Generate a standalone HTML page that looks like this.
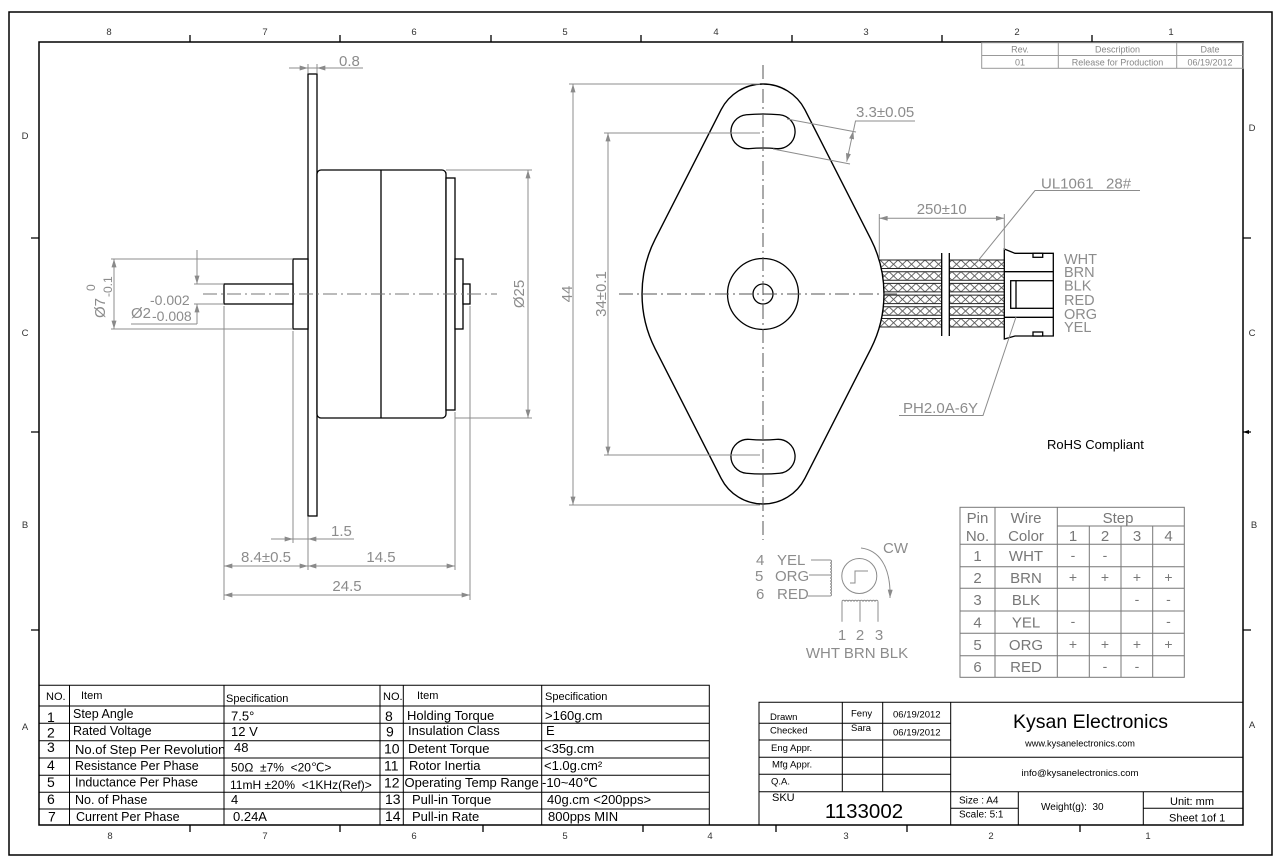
<!DOCTYPE html>
<html><head><meta charset="utf-8">
<style>
html,body{margin:0;padding:0;background:#fff;}
svg{display:block;}
text{font-family:"Liberation Sans",Arial,sans-serif;}
</style></head><body>
<svg width="1283" height="867" viewBox="0 0 1283 867" xmlns="http://www.w3.org/2000/svg">
<defs>
<marker id="ar" viewBox="0 0 10 6" refX="10" refY="3" markerWidth="9" markerHeight="5" markerUnits="userSpaceOnUse" orient="auto-start-reverse"><path d="M0,0 L10,3 L0,6 z" fill="#8a8a8a"/></marker>
<pattern id="xh" patternUnits="userSpaceOnUse" x="880" y="260" width="9" height="11.7"><path d="M0,0 L9,8.5 M9,0 L0,8.5" stroke="#555" stroke-width="0.9" fill="none"/></pattern>
</defs>

<!-- Frame -->
<rect x="9" y="12" width="1263" height="843" fill="none" stroke="#000" stroke-width="1.5"/>
<rect x="39" y="42" width="1204" height="783" fill="none" stroke="#000" stroke-width="1.5"/>
<g stroke="#000" stroke-width="1.3">
<path d="M190,35V42 M340,35V42 M491,35V42 M641,35V42 M792,35V42 M942,35V42 M1092,35V42"/>
<path d="M190,825V832 M340,825V832 M483,825V832 M643,825V832 M776,825V832 M907,825V832 M1080,825V832"/>
<path d="M31,238H39 M31,432H39 M31,630H39"/>
<path d="M1243,238H1251 M1243,432H1251 M1243,630H1251"/>
</g>
<path d="M1243,432 L1249,430 L1249,434 Z" fill="#000"/>
<g font-size="9.5" fill="#333" text-anchor="middle">
<text x="109" y="35">8</text><text x="265" y="35">7</text><text x="414" y="35">6</text><text x="565" y="35">5</text>
<text x="716" y="35">4</text><text x="866" y="35">3</text><text x="1017" y="35">2</text><text x="1171" y="35">1</text>
<text x="110" y="839">8</text><text x="265" y="839">7</text><text x="414" y="839">6</text><text x="565" y="839">5</text>
<text x="710" y="839">4</text><text x="846" y="839">3</text><text x="991" y="839">2</text><text x="1148" y="839">1</text>
<text x="25" y="139">D</text><text x="25" y="336">C</text><text x="25" y="528">B</text><text x="25" y="730">A</text>
<text x="1252" y="131">D</text><text x="1252" y="336">C</text><text x="1254" y="528">B</text><text x="1252" y="728">A</text>
</g>

<!-- Rev table -->
<g stroke="#999" stroke-width="1" fill="none">
<rect x="981.7" y="42.7" width="261.6" height="25.6"/>
<path d="M981.7,55.5H1243.3 M1058.3,42.7V68.3 M1176.7,42.7V68.3"/>
</g>
<g font-size="9" fill="#888" text-anchor="middle">
<text x="1020" y="52.3">Rev.</text><text x="1117.5" y="52.3">Description</text><text x="1210" y="52.3">Date</text>
<text x="1020" y="65.3">01</text><text x="1117.5" y="65.3">Release for Production</text><text x="1210" y="65.3">06/19/2012</text>
</g>

<!-- ===== Side view ===== -->
<g stroke="#000" stroke-width="1.3" fill="#fff">
<rect x="308" y="74" width="9" height="442"/>
<rect x="317" y="170" width="129" height="248" rx="4"/>
<rect x="446" y="178" width="9" height="232"/>
<rect x="293" y="259" width="15" height="70"/>
<rect x="455" y="259" width="8" height="70"/>
<rect x="224" y="284" width="69" height="20"/>
<rect x="463" y="284" width="7" height="20"/>
<line x1="381" y1="170" x2="381" y2="418"/>
</g>
<line x1="203" y1="294" x2="497" y2="294" stroke="#777" stroke-width="1" stroke-dasharray="14 4 2 4"/>

<g stroke="#8c8c8c" stroke-width="1" fill="none">
<path d="M289,68H363 M308,73V64 M317,73V64"/>
<line x1="290" y1="68" x2="308" y2="68" marker-end="url(#ar)"/>
<line x1="335" y1="68" x2="317" y2="68" marker-end="url(#ar)"/>
<path d="M446,170H532 M455,418H532"/>
<line x1="528" y1="170" x2="528" y2="418" marker-start="url(#ar)" marker-end="url(#ar)"/>
<path d="M111,259H293 M111,329H293"/>
<line x1="114" y1="259" x2="114" y2="329" marker-start="url(#ar)" marker-end="url(#ar)"/>
<path d="M194,284H224 M194,304H224 M131,324H197"/>
<line x1="197" y1="250" x2="197" y2="284" marker-end="url(#ar)"/>
<line x1="197" y1="324" x2="197" y2="304" marker-end="url(#ar)"/>
<path d="M224,306V600 M293,331V543 M308,517V570 M455,412V570 M470,306V600"/>
<path d="M271,539H354"/>
<line x1="272" y1="539" x2="293" y2="539" marker-end="url(#ar)"/>
<line x1="330" y1="539" x2="308" y2="539" marker-end="url(#ar)"/>
<line x1="224" y1="566" x2="308" y2="566" marker-start="url(#ar)" marker-end="url(#ar)"/>
<line x1="308" y1="566" x2="455" y2="566" marker-start="url(#ar)" marker-end="url(#ar)"/>
<line x1="224" y1="595" x2="470" y2="595" marker-start="url(#ar)" marker-end="url(#ar)"/>
</g>
<g fill="#8c8c8c" font-size="15">
<text x="339" y="66">0.8</text>
<text transform="translate(524,294) rotate(-90)" text-anchor="middle">Ø25</text>
<text transform="translate(105,318) rotate(-90)">Ø7</text>
<text transform="translate(95,291) rotate(-90)" font-size="12">0</text>
<text transform="translate(112,297) rotate(-90)" font-size="12">-0.1</text>
<text x="131" y="318">Ø2</text>
<text x="150" y="305" font-size="14">-0.002</text>
<text x="152" y="321" font-size="14">-0.008</text>
<text x="331" y="536">1.5</text>
<text x="266" y="562" text-anchor="middle">8.4±0.5</text>
<text x="381" y="562" text-anchor="middle">14.5</text>
<text x="347" y="591" text-anchor="middle">24.5</text>
</g>

<!-- ===== Front view ===== -->
<rect x="878" y="260" width="63.7" height="69" fill="url(#xh)"/>
<rect x="949.3" y="260" width="55" height="69" fill="url(#xh)"/>
<rect x="878" y="268.5" width="126.3" height="3.2" fill="#fff"/>
<rect x="878" y="280.2" width="126.3" height="3.2" fill="#fff"/>
<rect x="878" y="291.9" width="126.3" height="3.2" fill="#fff"/>
<rect x="878" y="303.6" width="126.3" height="3.2" fill="#fff"/>
<rect x="878" y="315.3" width="126.3" height="3.2" fill="#fff"/>
<rect x="941.7" y="255" width="7.6" height="80" fill="#fff"/>
<g stroke="#222" stroke-width="1">
<path d="M878,260H941.7 M878,268.5H941.7 M878,271.7H941.7 M878,280.2H941.7 M878,283.4H941.7 M878,291.9H941.7 M878,295.1H941.7 M878,303.6H941.7 M878,306.8H941.7 M878,315.3H941.7 M878,318.5H941.7 M878,327H941.7"/>
<path d="M949.3,260H1004.3 M949.3,268.5H1004.3 M949.3,271.7H1004.3 M949.3,280.2H1004.3 M949.3,283.4H1004.3 M949.3,291.9H1004.3 M949.3,295.1H1004.3 M949.3,303.6H1004.3 M949.3,306.8H1004.3 M949.3,315.3H1004.3 M949.3,318.5H1004.3 M949.3,327H1004.3"/>
<path d="M941.7,253V336 M949.3,253V336" stroke="#000" stroke-width="1.3"/>
</g>

<path d="M721.1,109.7 A47,47 0 0 1 804.9,109.7 L870.8,239.1 A121,121 0 0 1 870.8,348.9 L804.9,478.3 A47,47 0 0 1 721.1,478.3 L655.2,348.9 A121,121 0 0 1 655.2,239.1 Z" fill="#fff" stroke="#000" stroke-width="1.4"/>
<g fill="none" stroke="#000" stroke-width="1.3">
<path d="M746.36,114.77 A180,180 0 0 1 779.64,114.77 A17,17 0 0 1 776.5,148.63 A146,146 0 0 0 749.5,148.63 A17,17 0 0 1 746.36,114.77 Z"/>
<path d="M749.5,439.37 A146,146 0 0 0 776.5,439.37 A17,17 0 0 1 779.64,473.23 A180,180 0 0 1 746.36,473.23 A17,17 0 0 1 749.5,439.37 Z"/>
<circle cx="763" cy="294" r="35.5"/>
<circle cx="763" cy="294" r="10"/>
</g>
<g stroke="#555" stroke-width="1" stroke-dasharray="14 4 2 4">
<line x1="763" y1="65" x2="763" y2="540"/>
<line x1="619" y1="294" x2="900" y2="294"/>
</g>

<g stroke="#000" stroke-width="1.3" fill="#fff">
<path d="M1004.3,249 L1015,253.3 H1053.3 V336 H1015 L1004.3,339 Z"/>
<path d="M1004.3,271.7H1053.3 M1004.3,317.3H1053.3" fill="none"/>
<rect x="1010.7" y="280.7" width="42.6" height="27.6"/>
<line x1="1016" y1="280.7" x2="1016" y2="308.3"/>
<rect x="1033" y="253.3" width="9.7" height="4"/>
<rect x="1033" y="332" width="9.7" height="4"/>
</g>

<g stroke="#8c8c8c" stroke-width="1" fill="none">
<path d="M569,84H760 M569,505H760"/>
<line x1="573" y1="84" x2="573" y2="505" marker-start="url(#ar)" marker-end="url(#ar)"/>
<path d="M604,133H760 M604,455H760"/>
<line x1="608" y1="133" x2="608" y2="455" marker-start="url(#ar)" marker-end="url(#ar)"/>
<path d="M787,119L856,132 M773,149L850,164 M853.5,130.5L855.5,121H915"/>
<line x1="853.3" y1="130.7" x2="846.7" y2="161.7" marker-start="url(#ar)" marker-end="url(#ar)"/>
<path d="M879.3,214V258 M1004.3,214V250"/>
<line x1="879.3" y1="218.3" x2="1004.3" y2="218.3" marker-start="url(#ar)" marker-end="url(#ar)"/>
<path d="M1140,190.5H1035 L977,262"/>
<path d="M899,415.5H983 L1016,317"/>
</g>
<g fill="#8c8c8c" font-size="15">
<text transform="translate(572,294) rotate(-90)" text-anchor="middle">44</text>
<text transform="translate(606,294) rotate(-90)" text-anchor="middle">34±0.1</text>
<text x="856" y="117">3.3±0.05</text>
<text x="941.7" y="214" text-anchor="middle">250±10</text>
<text x="1041" y="188.5">UL1061&#160;&#160;&#160;28#</text>
<text x="903" y="413">PH2.0A-6Y</text>
</g>
<g fill="#8c8c8c" font-size="14.5">
<text x="1064" y="264">WHT</text>
<text x="1064" y="277">BRN</text>
<text x="1064" y="290.5">BLK</text>
<text x="1064" y="305">RED</text>
<text x="1064" y="319">ORG</text>
<text x="1064" y="332">YEL</text>
</g>

<text x="1047" y="449" font-size="13" fill="#000">RoHS Compliant</text>

<!-- ===== Schematic ===== -->
<g stroke="#8c8c8c" stroke-width="1" fill="none">
<path d="M811,560H830 M809,575H830 M808,596H830"/>
<path d="M830,560 a1.5,1.5 0 0 1 0,3 a1.5,1.5 0 0 1 0,3 a1.5,1.5 0 0 1 0,3 a1.5,1.5 0 0 1 0,3 a1.5,1.5 0 0 1 0,3 a1.5,1.5 0 0 1 0,3 a1.5,1.5 0 0 1 0,3 a1.5,1.5 0 0 1 0,3 a1.5,1.5 0 0 1 0,3 a1.5,1.5 0 0 1 0,3 a1.5,1.5 0 0 1 0,3 a1.5,1.5 0 0 1 0,3"/>
<circle cx="859.3" cy="576" r="17.5"/>
<path d="M850,583H855V571H868"/>
<path d="M861,548 C878,550 891,565 890,598" marker-end="url(#ar)"/>
<path d="M842,601.7 a1.5,1.5 0 0 1 3,0 a1.5,1.5 0 0 1 3,0 a1.5,1.5 0 0 1 3,0 a1.5,1.5 0 0 1 3,0 a1.5,1.5 0 0 1 3,0 a1.5,1.5 0 0 1 3,0 a1.5,1.5 0 0 1 3,0 a1.5,1.5 0 0 1 3,0 a1.5,1.5 0 0 1 3,0 a1.5,1.5 0 0 1 3,0 a1.5,1.5 0 0 1 3,0 a1.5,1.5 0 0 1 3,0"/>
<path d="M842,601.7V621.7 M860,601.7V621.7 M878,601.7V621.7"/>
</g>
<g fill="#8c8c8c" font-size="15">
<text x="756" y="565">4</text><text x="777" y="565">YEL</text>
<text x="755" y="581">5</text><text x="775" y="581">ORG</text>
<text x="756" y="599">6</text><text x="777" y="599">RED</text>
<text x="883" y="553">CW</text>
<text x="842" y="640" text-anchor="middle">1</text>
<text x="860" y="640" text-anchor="middle">2</text>
<text x="879" y="640" text-anchor="middle">3</text>
<text x="857" y="658" text-anchor="middle">WHT BRN BLK</text>
</g>

<!-- ===== Pin table ===== -->
<g stroke="#777" stroke-width="1" fill="none">
<rect x="960" y="507.3" width="224.3" height="170"/>
<path d="M995,507.3V677.3 M1057.3,507.3V677.3 M1089.3,526V677.3 M1121,526V677.3 M1152.7,526V677.3"/>
<path d="M1057.3,526H1184.3 M960,544.3H1184.3 M960,566.7H1184.3 M960,588.3H1184.3 M960,611H1184.3 M960,633.3H1184.3 M960,655.7H1184.3"/>
</g>
<g fill="#777" font-size="15" text-anchor="middle">
<text x="977.5" y="523">Pin</text><text x="977.5" y="541">No.</text>
<text x="1026" y="523">Wire</text><text x="1026" y="541">Color</text>
<text x="1118" y="523">Step</text>
<text x="1073" y="541">1</text><text x="1105" y="541">2</text><text x="1137" y="541">3</text><text x="1168.5" y="541">4</text>
<text x="977.5" y="561">1</text><text x="1026" y="561">WHT</text>
<text x="977.5" y="583">2</text><text x="1026" y="583">BRN</text>
<text x="977.5" y="605">3</text><text x="1026" y="605">BLK</text>
<text x="977.5" y="627.5">4</text><text x="1026" y="627.5">YEL</text>
<text x="977.5" y="650">5</text><text x="1026" y="650">ORG</text>
<text x="977.5" y="672">6</text><text x="1026" y="672">RED</text>
</g>
<g fill="#777" font-size="14" text-anchor="middle">
<text x="1073" y="560">-</text><text x="1105" y="560">-</text>
<text x="1073" y="582">+</text><text x="1105" y="582">+</text><text x="1137" y="582">+</text><text x="1168.5" y="582">+</text>
<text x="1137" y="604">-</text><text x="1168.5" y="604">-</text>
<text x="1073" y="626">-</text><text x="1168.5" y="626">-</text>
<text x="1073" y="649">+</text><text x="1105" y="649">+</text><text x="1137" y="649">+</text><text x="1168.5" y="649">+</text>
<text x="1105" y="671">-</text><text x="1137" y="671">-</text>
</g>

<!-- ===== Spec table ===== -->
<g stroke="#000" stroke-width="1" fill="none">
<path d="M39,685.3H709.3 V825"/>
<path d="M69.5,685.3V825 M224,685.3V825 M380,685.3V825 M403.3,685.3V825 M541.7,685.3V825"/>
<path d="M39,706H709.3 M39,723.3H709.3 M39,740.7H709.3 M39,758H709.3 M39,775.3H709.3 M39,792.3H709.3 M39,809H709.3"/>
</g>
<g fill="#000">
<g font-size="11">
<text x="46" y="700">NO.</text><text x="81" y="699">Item</text><text x="226" y="702">Specification</text>
<text x="383" y="700">NO.</text><text x="417" y="699">Item</text><text x="545" y="700">Specification</text>
</g>
<g font-size="14">
<text x="47" y="722">1</text><text x="47" y="737.5">2</text><text x="47" y="752">3</text><text x="47" y="770">4</text>
<text x="47" y="787">5</text><text x="47" y="804">6</text><text x="48" y="821.5">7</text>
<text x="385" y="721">8</text><text x="386" y="736.5">9</text><text x="384" y="753.5">10</text><text x="384" y="770.5">11</text>
<text x="384" y="787.5">12</text><text x="385" y="804">13</text><text x="385" y="821">14</text>
</g>
<g font-size="12.5">
<text x="73" y="718">Step Angle</text>
<text x="73" y="735">Rated Voltage</text>
<text x="75" y="754" font-size="13">No.of Step Per Revolution</text>
<text x="75" y="770">Resistance Per Phase</text>
<text x="75" y="786.5">Inductance Per Phase</text>
<text x="75" y="804">No. of Phase</text>
<text x="76" y="821">Current Per Phase</text>
</g>
<g font-size="13">
<text x="231" y="720.5">7.5°</text>
<text x="231" y="736">12 V</text>
<text x="234" y="752">48</text>
<text x="231" y="771.5" font-size="12">50Ω&#160;&#160;±7%&#160;&#160;&lt;20℃&gt;</text>
<text x="230" y="789" font-size="12">11mH ±20%&#160;&#160;&lt;1KHz(Ref)&gt;</text>
<text x="231" y="804">4</text>
<text x="233" y="821">0.24A</text>
<text x="407" y="720">Holding Torque</text>
<text x="408" y="735">Insulation Class</text>
<text x="408" y="753">Detent Torque</text>
<text x="409" y="770">Rotor Inertia</text>
<text x="404.5" y="787">Operating Temp Range</text>
<text x="412" y="804">Pull-in Torque</text>
<text x="412" y="821">Pull-in Rate</text>
<text x="545" y="720">&gt;160g.cm</text>
<text x="546" y="735">E</text>
<text x="544" y="753">&lt;35g.cm</text>
<text x="544" y="770">&lt;1.0g.cm²</text>
<text x="542" y="787">-10~40℃</text>
<text x="547" y="804">40g.cm &lt;200pps&gt;</text>
<text x="548" y="821">800pps MIN</text>
</g>
</g>

<!-- ===== Title block ===== -->
<g stroke="#000" stroke-width="1" fill="none">
<path d="M759,825V702.3H1243"/>
<path d="M842.3,702.3V791.7 M882.7,702.3V791.7 M950.7,702.3V825"/>
<path d="M759,723.3H950.7 M759,740H950.7 M759,757.3H1243 M759,774.3H950.7 M759,791.7H1243"/>
<path d="M1018.3,791.7V825 M1143.3,791.7V825 M950.7,808.3H1018.3 M1143.3,808.3H1243"/>
</g>
<g fill="#000" font-size="9.5">
<text x="770" y="720">Drawn</text><text x="851" y="716.7">Feny</text><text x="893" y="717.7">06/19/2012</text>
<text x="770" y="733.3">Checked</text><text x="851" y="731">Sara</text><text x="893" y="735.7">06/19/2012</text>
<text x="771" y="751">Eng Appr.</text>
<text x="772" y="767.7">Mfg Appr.</text>
<text x="771" y="784.3">Q.A.</text>
<text x="1080" y="746.7" text-anchor="middle" font-size="9.2">www.kysanelectronics.com</text>
<text x="1080" y="776" text-anchor="middle" font-size="9.6">info@kysanelectronics.com</text>
<text x="959" y="803.3" font-size="10">Size : A4</text>
<text x="959" y="817.7" font-size="10">Scale: 5:1</text>
<text x="1041" y="810" font-size="10">Weight(g):&#160;&#160;30</text>
<text x="1170" y="805" font-size="11">Unit: mm</text>
<text x="1169" y="821.7" font-size="11">Sheet 1of 1</text>
<text x="772" y="801" font-size="11">SKU</text>
</g>
<text x="1090.5" y="728" text-anchor="middle" font-size="19.5" fill="#000">Kysan Electronics</text>
<text x="864" y="818" text-anchor="middle" font-size="20.5" fill="#000">1133002</text>
</svg>
</body></html>
